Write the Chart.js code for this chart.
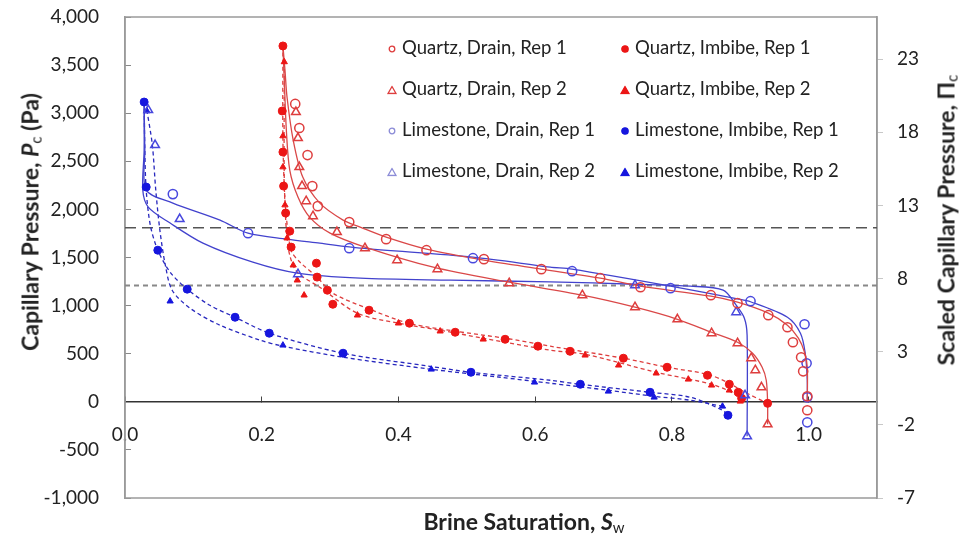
<!DOCTYPE html>
<html>
<head>
<meta charset="utf-8">
<script src="https://cdn.jsdelivr.net/npm/chart.js@4.4.0/dist/chart.umd.min.js"></script>
<style>
  html, body { margin: 0; padding: 0; background: #fff; }
  #wrap { position: relative; width: 962px; height: 537px; font-family: Lato, "Open Sans", sans-serif; color: #222; }
  #chart { position: absolute; left: 0; top: 0; }
  .ttl { position: absolute; font-weight: bold; font-size: 23px; white-space: nowrap; transform: translate(-50%, -50%); }
  .ttl.rot { transform: translate(-50%, -50%) rotate(-90deg); }
  .ttl sub { font-size: 15px; font-weight: normal; vertical-align: -3px; }
  .li { position: absolute; font-size: 18.5px; white-space: nowrap; transform: translateY(-50%); }
  .mk { position: absolute; transform: translate(-50%, -50%); }
</style>
</head>
<body>
<div id="wrap">
  <canvas id="chart" width="962" height="537"></canvas>
  <div class="ttl rot" style="left:30px; top:222px;">Capillary Pressure, <i>P</i><sub>c</sub> (Pa)</div>
  <div class="ttl rot" style="left:946px; top:220px;">Scaled Capillary Pressure, &Pi;<sub>c</sub></div>
  <div class="ttl" style="left:524px; top:521px;">Brine Saturation, <i>S</i><sub>w</sub></div>
  <div id="legend"></div>
</div>
<script>
// tick labels
const xTicks = [0, 0.2, 0.4, 0.6, 0.8, 1.0];
const yTicks = [-1000, -500, 0, 500, 1000, 1500, 2000, 2500, 3000, 3500, 4000];
const y2Ticks = [-7, -2, 3, 8, 13, 18, 23];

// horizontal reference levels (Pa)
const refLevels = [1810, 1210];

// measured points: brine saturation / capillary pressure (Pa)
const qDrain1X = [0.249, 0.255, 0.267, 0.274, 0.282, 0.328, 0.382, 0.441, 0.525, 0.609, 0.695, 0.754, 0.857, 0.896, 0.941, 0.969, 0.977, 0.989, 0.992, 0.998, 0.998];
const qDrain1Y = [3096, 2846, 2565, 2242, 2034, 1868, 1691, 1576, 1483, 1379, 1285, 1191, 1108, 1025, 900, 775, 619, 463, 317, 57, -88];

const qDrain2X = [0.250, 0.253, 0.255, 0.259, 0.265, 0.275, 0.310, 0.351, 0.398, 0.457, 0.562, 0.669, 0.746, 0.808, 0.858, 0.896, 0.916, 0.922, 0.931, 0.940];
const qDrain2Y = [3012, 2742, 2440, 2242, 2086, 1930, 1764, 1597, 1472, 1379, 1233, 1108, 983, 858, 713, 609, 453, 328, 151, -234];

const qImb1X = [0.231, 0.230, 0.231, 0.232, 0.235, 0.241, 0.243, 0.280, 0.281, 0.296, 0.304, 0.357, 0.416, 0.483, 0.556, 0.604, 0.651, 0.729, 0.793, 0.852, 0.884, 0.897, 0.902, 0.940];
const qImb1Y = [3699, 3023, 2596, 2242, 1962, 1774, 1608, 1441, 1296, 1160, 1014, 952, 817, 723, 650, 578, 525, 453, 359, 276, 182, 99, 36, -16];

const qImb2X = [0.233, 0.231, 0.231, 0.234, 0.237, 0.246, 0.252, 0.262, 0.340, 0.400, 0.461, 0.524, 0.673, 0.722, 0.777, 0.824, 0.858, 0.884, 0.900];
const qImb2Y = [3533, 2763, 2440, 2045, 1701, 1420, 1264, 1108, 900, 817, 734, 650, 484, 380, 297, 234, 172, 120, 5];

const lDrain1X = [0.070, 0.180, 0.328, 0.509, 0.654, 0.798, 0.915, 0.994, 0.997, 0.998, 0.998];
const lDrain1Y = [2159, 1753, 1597, 1493, 1358, 1181, 1046, 806, 400, 47, -213];

const lDrain2X = [0.034, 0.044, 0.080, 0.253, 0.746, 0.894, 0.907, 0.910];
const lDrain2Y = [3033, 2669, 1899, 1326, 1212, 931, 68, -359];

const lImb1X = [0.028, 0.031, 0.048, 0.091, 0.161, 0.211, 0.319, 0.506, 0.666, 0.768, 0.882];
const lImb1Y = [3116, 2232, 1576, 1171, 879, 713, 505, 307, 182, 99, -140];

const lImb2X = [0.032, 0.066, 0.231, 0.448, 0.599, 0.707, 0.774, 0.874];
const lImb2Y = [3023, 1046, 588, 338, 203, 109, 47, -47];

// fitted curves
const qDrain1FitX = [0.231, 0.234, 0.237, 0.246, 0.260, 0.285, 0.319, 0.344, 0.382, 0.441, 0.525, 0.609, 0.695, 0.754, 0.857, 0.896, 0.941, 0.969, 0.985, 0.994, 0.998, 0.998];
const qDrain1FitY = [3700, 3449, 3168, 2721, 2336, 2065, 1889, 1816, 1712, 1587, 1472, 1379, 1285, 1202, 1098, 1035, 921, 796, 661, 515, 359, 0];

const qDrain2FitX = [0.231, 0.233, 0.236, 0.241, 0.253, 0.270, 0.300, 0.351, 0.451, 0.562, 0.669, 0.746, 0.808, 0.858, 0.896, 0.918, 0.932, 0.938, 0.940, 0.940];
const qDrain2FitY = [3700, 3345, 2825, 2409, 2128, 1920, 1753, 1608, 1399, 1243, 1108, 983, 858, 723, 619, 505, 359, 224, -16, -234];

const lDrain1FitX = [0.028, 0.029, 0.031, 0.070, 0.139, 0.180, 0.237, 0.285, 0.344, 0.509, 0.622, 0.654, 0.798, 0.896, 0.915, 0.969, 0.988, 0.995, 0.998, 0.998];
const lDrain1FitY = [3116, 2617, 2201, 2066, 1889, 1753, 1691, 1649, 1597, 1504, 1400, 1379, 1202, 1070, 1040, 879, 713, 505, 224, 0];

const lDrain2FitX = [0.028, 0.028, 0.026, 0.034, 0.066, 0.114, 0.187, 0.252, 0.344, 0.476, 0.622, 0.746, 0.827, 0.875, 0.894, 0.906, 0.910, 0.910];
const lDrain2FitY = [3116, 2617, 2201, 2024, 1858, 1649, 1451, 1337, 1285, 1264, 1247, 1222, 1202, 1160, 1004, 869, 692, -359];

const qImb1FitX = [0.231, 0.231, 0.234, 0.239, 0.244, 0.256, 0.281, 0.304, 0.354, 0.415, 0.483, 0.556, 0.622, 0.729, 0.793, 0.852, 0.881, 0.907, 0.940];
const qImb1FitY = [3700, 2721, 2097, 1733, 1556, 1451, 1295, 1129, 973, 817, 734, 661, 578, 453, 359, 286, 203, 99, -16];

const qImb2FitX = [0.233, 0.233, 0.236, 0.241, 0.252, 0.285, 0.340, 0.400, 0.461, 0.524, 0.622, 0.673, 0.777, 0.858, 0.890, 0.902];
const qImb2FitY = [3533, 2305, 1785, 1524, 1347, 1191, 921, 817, 744, 661, 536, 494, 307, 182, 88, 5];

const lImb1FitX = [0.028, 0.029, 0.031, 0.037, 0.048, 0.066, 0.091, 0.124, 0.161, 0.211, 0.319, 0.446, 0.506, 0.622, 0.666, 0.768, 0.827, 0.874, 0.882];
const lImb1FitY = [3116, 2617, 2201, 1837, 1576, 1348, 1171, 1004, 879, 713, 505, 369, 307, 224, 182, 99, 47, -88, -140];

const lImb2FitX = [0.032, 0.040, 0.045, 0.051, 0.059, 0.069, 0.095, 0.139, 0.198, 0.231, 0.319, 0.448, 0.549, 0.622, 0.707, 0.774, 0.827, 0.874];
const lImb2FitY = [3033, 2669, 2201, 1785, 1420, 1160, 973, 796, 640, 578, 463, 338, 255, 193, 120, 57, 16, -47];

const seriesLabels = ['Quartz, Drain, Rep 1', 'Quartz, Imbibe, Rep 1', 'Quartz, Drain, Rep 2', 'Quartz, Imbibe, Rep 2',
                      'Limestone, Drain, Rep 1', 'Limestone, Imbibe, Rep 1', 'Limestone, Drain, Rep 2', 'Limestone, Imbibe, Rep 2'];

const RED_OPEN = 'rgb(222,62,62)';
const RED_FILL = 'rgb(236,22,22)';
const BLUE_OPEN = 'rgb(72,72,222)';
const BLUE_FILL = 'rgb(22,22,222)';
const RED_LINE = 'rgb(218,72,72)';
const BLUE_LINE = 'rgb(66,66,205)';
const FONT = 'Lato, "Open Sans", sans-serif';

const pts = (xs, ys) => xs.map((x, i) => ({x: x, y: ys[i]}));

function markers(label, xs, ys, style, color, filled) {
    return {
        label: label,
        data: pts(xs, ys),
        showLine: false,
        pointStyle: style,
        pointRadius: filled ? (style === 'triangle' ? 3.6 : 4) : (style === 'triangle' ? 5 : 4.6),
        pointBorderWidth: filled ? 1 : 1.5,
        borderColor: color,
        backgroundColor: filled ? color : 'rgba(255,255,255,0)',
        pointHoverRadius: 0
    };
}

function fit(xs, ys, color, dashed) {
    return {
        label: '',
        data: pts(xs, ys),
        showLine: true,
        pointRadius: 0,
        borderColor: color,
        borderWidth: 1.3,
        borderDash: dashed ? [4, 3] : [],
        tension: 0.3,
        fill: false
    };
}

function refLine(level, color, dash, width) {
    return {
        label: '',
        data: [{x: 0, y: level}, {x: 1.1, y: level}],
        showLine: true,
        pointRadius: 0,
        borderColor: color,
        borderWidth: width,
        borderDash: dash,
        fill: false
    };
}

const datasets = [
    markers(seriesLabels[0], qDrain1X, qDrain1Y, 'circle', RED_OPEN, false),
    markers(seriesLabels[2], qDrain2X, qDrain2Y, 'triangle', RED_OPEN, false),
    markers(seriesLabels[4], lDrain1X, lDrain1Y, 'circle', BLUE_OPEN, false),
    markers(seriesLabels[6], lDrain2X, lDrain2Y, 'triangle', BLUE_OPEN, false),
    markers(seriesLabels[1], qImb1X, qImb1Y, 'circle', RED_FILL, true),
    markers(seriesLabels[3], qImb2X, qImb2Y, 'triangle', RED_FILL, true),
    markers(seriesLabels[5], lImb1X, lImb1Y, 'circle', BLUE_FILL, true),
    markers(seriesLabels[7], lImb2X, lImb2Y, 'triangle', BLUE_FILL, true),
    fit(qDrain1FitX, qDrain1FitY, RED_LINE, false),
    fit(qDrain2FitX, qDrain2FitY, RED_LINE, false),
    fit(lDrain1FitX, lDrain1FitY, BLUE_LINE, false),
    fit(lDrain2FitX, lDrain2FitY, BLUE_LINE, false),
    fit(qImb1FitX, qImb1FitY, RED_OPEN, true),
    fit(qImb2FitX, qImb2FitY, RED_OPEN, true),
    fit(lImb1FitX, lImb1FitY, 'rgb(40,40,190)', true),
    fit(lImb2FitX, lImb2FitY, 'rgb(40,40,190)', true),
    refLine(refLevels[0], '#555', [11, 6], 1.5),
    refLine(refLevels[1], '#888', [5, 4], 2)
];

// grey frame round the plot area
const frame = {
    id: 'frame',
    beforeDatasetsDraw(chart) {
        const {ctx, chartArea: a} = chart;
        ctx.save();
        ctx.strokeStyle = '#9a9a9a';
        ctx.lineWidth = 1.5;
        ctx.strokeRect(a.left, a.top, a.right - a.left, a.bottom - a.top);
        ctx.restore();
    }
};

// fixed axis boxes; drop the label overhang padding so the plot area keeps its size
function fixBox(w, h) {
    return s => {
        if (w !== null) s.width = w;
        if (h !== null) s.height = h;
        s.paddingTop = 0;
        s.paddingBottom = 0;
        s.paddingLeft = 0;
        s.paddingRight = 0;
    };
}

new Chart(document.getElementById('chart'), {
    type: 'scatter',
    data: {datasets: datasets},
    plugins: [frame],
    options: {
        responsive: false,
        devicePixelRatio: 1,
        animation: false,
        layout: {padding: {top: 17, left: 0, right: 0, bottom: 39}},
        plugins: {legend: {display: false}, tooltip: {enabled: false}},
        scales: {
            x: {
                type: 'linear',
                position: {y: 0},
                min: 0,
                max: 1.1,
                afterFit: fixBox(null, 0),
                afterBuildTicks: s => { s.ticks = xTicks.map(v => ({value: v})); },
                ticks: {callback: v => v.toFixed(1), font: {size: 19, family: FONT}, color: '#222', padding: 28, maxRotation: 0, autoSkip: false},
                grid: {drawOnChartArea: false, tickLength: -6, color: '#444'},
                border: {color: '#333', width: 1.5}
            },
            y: {
                position: 'left',
                min: -1000,
                max: 4000,
                afterFit: fixBox(125, null),
                afterBuildTicks: s => { s.ticks = yTicks.map(v => ({value: v})); },
                ticks: {callback: v => v.toLocaleString('en-US'), font: {size: 19, family: FONT}, color: '#222', padding: 32},
                grid: {drawOnChartArea: false, tickLength: -6, color: '#888'},
                border: {color: '#9a9a9a', width: 1.5}
            },
            y2: {
                type: 'linear',
                position: 'right',
                min: -7,
                max: 25.88,
                afterFit: fixBox(85, null),
                afterBuildTicks: s => { s.ticks = y2Ticks.map(v => ({value: v})); },
                ticks: {callback: v => String(v), font: {size: 19, family: FONT}, color: '#222', padding: 14},
                grid: {drawOnChartArea: false, tickLength: 6, color: '#c8c8c8'},
                border: {color: '#9a9a9a', width: 1.5}
            }
        }
    }
});

// legend, two columns of four inside the plot
const legendSpec = [
    ['circle', RED_OPEN, false], ['circle', RED_FILL, true],
    ['triangle', RED_OPEN, false], ['triangle', RED_FILL, true],
    ['circle', 'rgb(140,140,215)', false], ['circle', BLUE_FILL, true],
    ['triangle', 'rgb(140,140,215)', false], ['triangle', BLUE_FILL, true]
];
const legendCols = [392, 625];
const legendRows = [47, 88, 129, 170];
const legendEl = document.getElementById('legend');
seriesLabels.forEach((label, i) => {
    const [shape, color, filled] = legendSpec[i];
    const cx = legendCols[i % 2];
    const cy = legendRows[Math.floor(i / 2)];
    const fillCol = filled ? color : 'none';
    const svg = shape === 'circle'
        ? `<svg width="9" height="9"><circle cx="4.5" cy="4.5" r="${filled ? 3.2 : 2.8}" fill="${fillCol}" stroke="${color}" stroke-width="1.3"/></svg>`
        : `<svg width="10" height="9"><polygon points="5,1 9,8 1,8" fill="${fillCol}" stroke="${color}" stroke-width="1.3"/></svg>`;
    const mk = document.createElement('div');
    mk.className = 'mk';
    mk.style.left = cx + 'px';
    mk.style.top = cy + 'px';
    mk.innerHTML = svg;
    legendEl.appendChild(mk);
    const t = document.createElement('div');
    t.className = 'li';
    t.style.left = (cx + 10) + 'px';
    t.style.top = cy + 'px';
    t.textContent = label;
    legendEl.appendChild(t);
});
</script>
</body>
</html>
